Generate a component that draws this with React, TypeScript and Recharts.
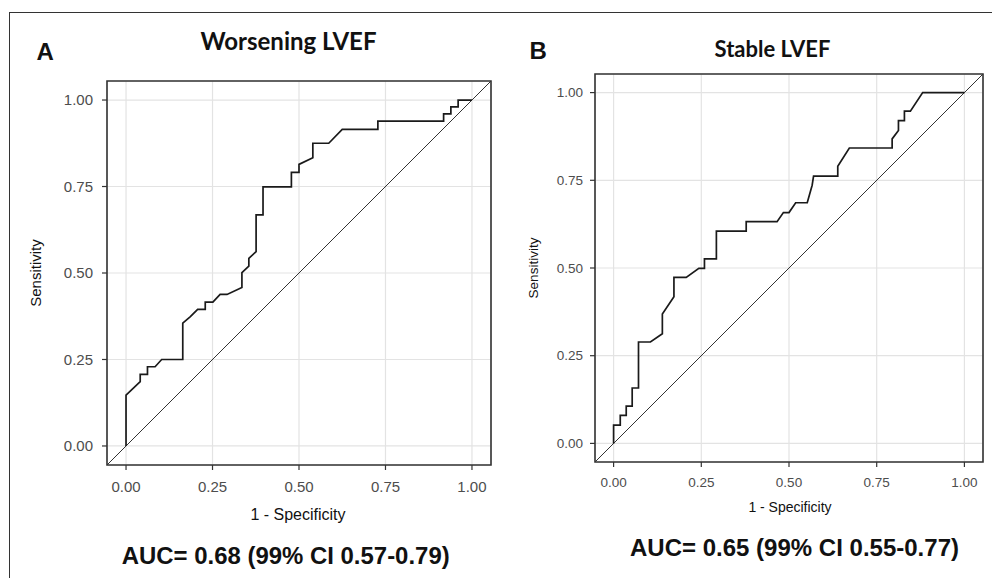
import React from 'react';
import { CartesianGrid, Line, LineChart, ReferenceArea, XAxis, YAxis } from 'recharts';

const TICKS = [0, 0.25, 0.5, 0.75, 1];

// Panel A: Worsening LVEF, 1 - specificity vs sensitivity
const FPR_A = [
  0, 0, 0.041, 0.041, 0.062, 0.062, 0.084, 0.103, 0.164, 0.164, 0.186, 0.207, 0.229, 0.229,
  0.251, 0.272, 0.292, 0.335, 0.335, 0.355, 0.355, 0.376, 0.376, 0.396, 0.396, 0.478, 0.478,
  0.5, 0.5, 0.54, 0.54, 0.586, 0.625, 0.728, 0.728, 0.918, 0.918, 0.939, 0.939, 0.96, 0.96, 1
];
const TPR_A = [
  0, 0.147, 0.186, 0.207, 0.207, 0.229, 0.229, 0.25, 0.25, 0.355, 0.374, 0.395, 0.395, 0.416,
  0.416, 0.438, 0.438, 0.458, 0.501, 0.52, 0.542, 0.562, 0.668, 0.668, 0.749, 0.749, 0.791,
  0.791, 0.814, 0.833, 0.875, 0.875, 0.915, 0.915, 0.939, 0.939, 0.96, 0.96, 0.98, 0.98, 1, 1
];

// Panel B: Stable LVEF
const FPR_B = [
  0, 0, 0.019, 0.019, 0.036, 0.036, 0.053, 0.053, 0.071, 0.071, 0.105, 0.139, 0.139, 0.172,
  0.172, 0.207, 0.243, 0.259, 0.259, 0.293, 0.293, 0.378, 0.378, 0.466, 0.484, 0.5, 0.519,
  0.552, 0.566, 0.57, 0.639, 0.639, 0.672, 0.794, 0.794, 0.812, 0.812, 0.829, 0.829, 0.846,
  0.881, 1
];
const TPR_B = [
  0, 0.052, 0.052, 0.08, 0.08, 0.106, 0.106, 0.158, 0.158, 0.289, 0.289, 0.3125, 0.369, 0.418,
  0.473, 0.473, 0.499, 0.499, 0.526, 0.526, 0.605, 0.605, 0.632, 0.632, 0.658, 0.658, 0.686,
  0.686, 0.736, 0.762, 0.762, 0.79, 0.842, 0.842, 0.868, 0.892, 0.92, 0.92, 0.947, 0.947,
  1, 1
];

// reference line y = x across the whole panel
const DIAG_A = [-0.055, 1.055];
const DIAG_B = [-0.053, 1.053];

const toPoints = (xs: number[], ys: number[]) => xs.map((x, i) => ({ x, y: ys[i] }));

type PanelProps = {
  left: number;
  width: number;
  height: number;
  margin: { top: number; right: number; bottom: number; left: number };
  domain: number[];
  yAxisWidth: number;
  fontSize: number;
  xTickMargin: number;
  yTickMargin: number;
  curve: { x: number; y: number }[];
};

function RocPanel({ left, width, height, margin, domain, yAxisWidth, fontSize, xTickMargin, yTickMargin, curve }: PanelProps) {
  const [lo, hi] = domain;
  const diagonal = toPoints(domain, domain);
  return (
    <div style={{ position: 'absolute', left, top: 0 }}>
      <LineChart width={width} height={height} margin={margin}>
        <CartesianGrid stroke="#e3e3e3" strokeWidth={1.2} />
        <XAxis
          type="number"
          dataKey="x"
          domain={[lo, hi]}
          ticks={TICKS}
          interval={0}
          allowDataOverflow
          tickFormatter={(v: number) => v.toFixed(2)}
          axisLine={false}
          tickSize={5}
          tickMargin={xTickMargin}
          tickLine={{ stroke: '#333', strokeWidth: 1.2 }}
          tick={{ fill: '#4d4d4d', fontSize }}
          height={40}
        />
        <YAxis
          type="number"
          dataKey="y"
          domain={[lo, hi]}
          ticks={TICKS}
          interval={0}
          allowDataOverflow
          tickFormatter={(v: number) => v.toFixed(2)}
          axisLine={false}
          tickSize={5}
          tickMargin={yTickMargin}
          tickLine={{ stroke: '#333', strokeWidth: 1.2 }}
          tick={{ fill: '#4d4d4d', fontSize }}
          width={yAxisWidth}
        />
        <Line data={diagonal} dataKey="y" stroke="#333" strokeWidth={1} dot={false} isAnimationActive={false} />
        <Line data={curve} dataKey="y" type="linear" stroke="#1a1a1a" strokeWidth={1.7} dot={false} isAnimationActive={false} />
        <ReferenceArea x1={lo} x2={hi} y1={lo} y2={hi} fill="none" stroke="#333" strokeWidth={1.6} ifOverflow="visible" />
      </LineChart>
    </div>
  );
}

export default function App() {
  const arial = '"Liberation Sans", Arial, sans-serif';
  return (
    <div style={{ position: 'absolute', left: 0, top: 0, width: 992, height: 578, overflow: 'hidden', background: '#fff', fontFamily: arial }}>
      <div style={{ position: 'absolute', left: 9, top: 12, width: 1000, height: 600, borderTop: '1.6px solid #333', borderLeft: '1.6px solid #333' }} />

      <RocPanel
        left={0}
        width={500}
        height={540}
        margin={{ top: 81, right: 9, bottom: 35, left: 47 }}
        domain={DIAG_A}
        yAxisWidth={60}
        fontSize={15}
        xTickMargin={11}
        yTickMargin={9}
        curve={toPoints(FPR_A, TPR_A)}
      />
      <RocPanel
        left={500}
        width={492}
        height={540}
        margin={{ top: 74, right: 9, bottom: 38, left: 45 }}
        domain={DIAG_B}
        yAxisWidth={50}
        fontSize={13.5}
        xTickMargin={10}
        yTickMargin={7}
        curve={toPoints(FPR_B, TPR_B)}
      />

      <svg width={992} height={578} style={{ position: 'absolute', left: 0, top: 0, pointerEvents: 'none' }}>
        <text x={36.5} y={60} fontSize={24} fontWeight="bold" fontFamily={arial} fill="#111">A</text>
        <text x={529.5} y={59} fontSize={24} fontWeight="bold" fontFamily={arial} fill="#111">B</text>

        <text x={288.5} y={50} fontSize={24} fontWeight="bold" fontFamily="Lato, sans-serif" textAnchor="middle" fill="#111">Worsening LVEF</text>
        <text x={772.5} y={57} fontSize={22} fontWeight="bold" fontFamily="Lato, sans-serif" textAnchor="middle" fill="#111">Stable LVEF</text>

        <text x={298} y={520} fontSize={16} fontFamily={arial} textAnchor="middle" fill="#111">1 - Specificity</text>
        <text x={790} y={511.5} fontSize={14} fontFamily={arial} textAnchor="middle" fill="#111">1 - Specificity</text>

        <text x={41} y={273} fontSize={15} fontFamily={arial} textAnchor="middle" fill="#111" transform="rotate(-90 41 273)">Sensitivity</text>
        <text x={538} y={268} fontSize={13.5} fontFamily={arial} textAnchor="middle" fill="#111" transform="rotate(-90 538 268)">Sensitivity</text>

        <text x={121.7} y={564} fontSize={23.5} fontWeight="bold" fontFamily={arial} textLength={328} lengthAdjust="spacingAndGlyphs" fill="#111">AUC= 0.68 (99% CI 0.57-0.79)</text>
        <text x={630} y={556} fontSize={23.5} fontWeight="bold" fontFamily={arial} textLength={329} lengthAdjust="spacingAndGlyphs" fill="#111">AUC= 0.65 (99% CI 0.55-0.77)</text>
      </svg>
    </div>
  );
}
